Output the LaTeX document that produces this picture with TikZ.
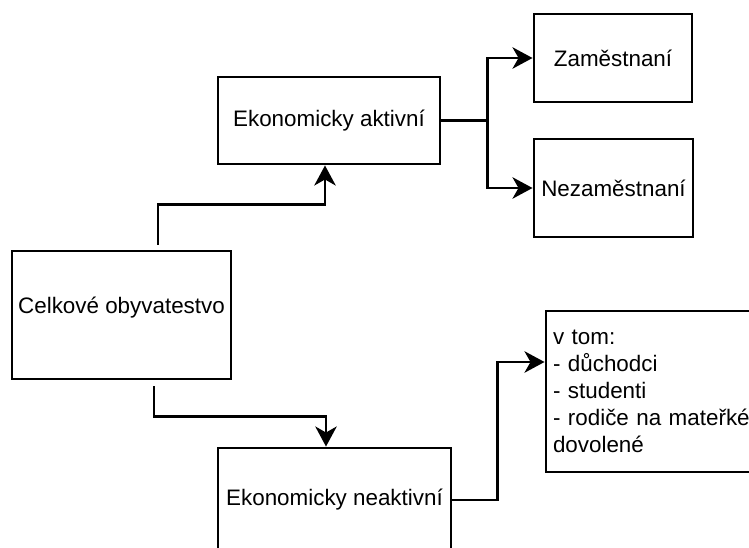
\documentclass[tikz,border=0pt]{standalone}
\usepackage{fontspec}
\setmainfont{Liberation Sans}
\usetikzlibrary{arrows.meta,calc}
\begin{document}
\begin{tikzpicture}[x=0.75pt,y=-0.75pt,
  box/.style={draw=black,line width=2.2pt,fill=white,inner sep=0pt,align=center,
    font=\fontsize{16.8pt}{20.3pt}\selectfont},
  arr/.style={draw=black,line width=2.2pt,-{Stealth[length=15pt,width=16pt,inset=4.5pt]}}]
\clip (0,0) rectangle (749,548);
\fill[white] (0,0) rectangle (749,548);
\node[box,minimum width=164.25pt,minimum height=96pt,text depth=14pt] (cel) at (121.5,315) {Celkové obyvatestvo};
\node[box,minimum width=166.5pt,minimum height=65.25pt] (ak) at (329,120.5) {Ekonomicky aktivní};
\node[box,minimum width=174.75pt,minimum height=78pt] (nak) at (334.5,500) {Ekonomicky neaktivní};
\node[box,minimum width=118.5pt,minimum height=66pt] (zam) at (613,58) {Zaměstnaní};
\node[box,minimum width=119.25pt,minimum height=73.5pt] (nez) at (613.5,188) {Nezaměstnaní};
\node[box,align=left,text width=154.5pt,inner xsep=5.25pt,minimum height=120.75pt] (lst) at (656,391.5)
  {v tom:\\- důchodci\\- studenti\\- rodiče na mateřké\\dovolené};
\draw[arr] ($(cel.north)+(36.5,-5)$) -- ($(cel.north)+(36.5,-45)$) -| ($(ak.south)+(-4,0)$);
\draw[arr] ($(cel.south)+(32.5,6)$) -- ($(cel.south)+(32.5,36)$) -| ($(nak.north)+(-8.5,0)$);
\draw[arr] (ak.east) -- ++(46,0) |- (zam.west);
\draw[arr] (ak.east) -- ++(46,0) |- (nez.west);
\draw[arr] (nak.east) -- ++(45,0) |- ($(lst.west)+(0,-29.5)$);
\end{tikzpicture}
\end{document}
